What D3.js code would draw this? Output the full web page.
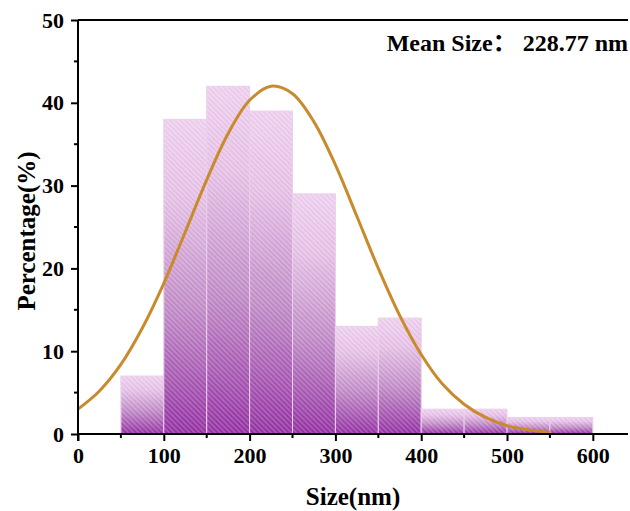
<!DOCTYPE html>
<html><head><meta charset="utf-8">
<script src="https://cdn.jsdelivr.net/npm/d3@7"></script>
<style>
html,body{margin:0;padding:0;background:#fff;}
svg text{font-family:"Liberation Serif","Times New Roman",serif;font-weight:bold;fill:#000;}
</style></head>
<body>
<svg id="chart" width="630" height="511"></svg>
<script>
// Histogram bins (nm) and percentages
const binStarts = [50,100,150,200,250,300,350,400,450,500,550];
const binWidth = 50;
const percentages = [7,38,42,39,29,13,14,3,3,2,2];
// Fitted distribution curve
const curveX = [0,25,50,75,100,125,150,175,200,225,250,275,300,325,350,375,400,425,450,475,500,525,550];
const curveY = [3.0,5.2,8.4,12.8,18.2,24.4,30.7,36.3,40.3,42.0,41.1,37.7,32.5,26.3,20.0,14.3,9.6,6.0,3.6,2.0,1.0,0.5,0.2];
const xTicks = [0,100,200,300,400,500,600];
const yTicks = [0,10,20,30,40,50];
const meanText = ["Mean Size", "\uFF1A", " 228.77 nm"];

(function(){
const svg = d3.select("#chart");
const pL = 78, pR = 628, pT = 20, pB = 434;
const x = d3.scaleLinear().domain([0, 641]).range([pL, pR]);
const y = d3.scaleLinear().domain([0, 50]).range([pB, pT]);

const defs = svg.append("defs");
const grad = defs.append("linearGradient").attr("id","barGrad")
  .attr("x1",0).attr("y1",0).attr("x2",0).attr("y2",1);
grad.append("stop").attr("offset","0").attr("stop-color","#EFD2EF");
grad.append("stop").attr("offset","0.25").attr("stop-color","#E6C2E6");
grad.append("stop").attr("offset","0.6").attr("stop-color","#C08CC6");
grad.append("stop").attr("offset","1").attr("stop-color","#932FA2");
const pat = defs.append("pattern").attr("id","hatch").attr("patternUnits","userSpaceOnUse")
  .attr("width",3.6).attr("height",3.6).attr("patternTransform","rotate(-45)");
pat.append("line").attr("x1",0.9).attr("y1",0).attr("x2",0.9).attr("y2",3.6)
  .attr("stroke","#ffffff").attr("stroke-opacity",0.3).attr("stroke-width",1.1);
pat.append("line").attr("x1",2.7).attr("y1",0).attr("x2",2.7).attr("y2",3.6)
  .attr("stroke","#7a1f88").attr("stroke-opacity",0.07).attr("stroke-width",1.1);

// bars
const bars = svg.append("g");
binStarts.forEach((b,i)=>{
  const bx = x(b), bw = x(b+binWidth)-x(b), by = y(percentages[i]), bh = y(0)-y(percentages[i]);
  bars.append("rect").attr("x",bx).attr("y",by).attr("width",bw).attr("height",bh)
    .attr("fill","url(#barGrad)");
  bars.append("rect").attr("x",bx).attr("y",by).attr("width",bw).attr("height",bh)
    .attr("fill","url(#hatch)").attr("stroke","#EAD0EC").attr("stroke-width",1);
});

// curve
const line = d3.line().x((d,i)=>x(curveX[i])).y(d=>y(d)).curve(d3.curveCatmullRom);
svg.append("path").datum(curveY).attr("d",line).attr("fill","none")
  .attr("stroke","#C98A2C").attr("stroke-width",3);

// axes
const xAxis = d3.axisBottom(x).tickValues(xTicks).tickSize(7).tickPadding(6).tickSizeOuter(0);
const gx = svg.append("g").attr("transform",`translate(0,${pB})`).call(xAxis);
gx.select(".domain").attr("stroke","#000").attr("stroke-width",2).attr("d",`M${pL},0H${pR}`);
gx.selectAll(".tick line").attr("stroke","#000").attr("stroke-width",2);
gx.selectAll("text").style("font-size","22px");
const xMinor = d3.range(50,650,100);
gx.selectAll(".mtick").data(xMinor).enter().append("line")
  .attr("x1",d=>x(d)).attr("x2",d=>x(d)).attr("y1",0).attr("y2",4)
  .attr("stroke","#000").attr("stroke-width",2);

const yAxis = d3.axisLeft(y).tickValues(yTicks).tickSize(7).tickPadding(7).tickSizeOuter(0);
const gy = svg.append("g").attr("transform",`translate(${pL},0)`).call(yAxis);
gy.select(".domain").attr("stroke","#000").attr("stroke-width",2).attr("d",`M0,${pB+7}V${pT}`);
gy.selectAll(".tick line").attr("stroke","#000").attr("stroke-width",2);
gy.selectAll("text").style("font-size","22px");
const yMinor = d3.range(5,50,10);
gy.selectAll(".mtick").data(yMinor).enter().append("line")
  .attr("x1",0).attr("x2",-4).attr("y1",d=>y(d)).attr("y2",d=>y(d))
  .attr("stroke","#000").attr("stroke-width",2);

// top frame
svg.append("line").attr("x1",pL).attr("x2",pR).attr("y1",pT).attr("y2",pT)
  .attr("stroke","#000").attr("stroke-width",2);

// labels
svg.append("text").attr("x",(pL+pR)/2).attr("y",505).attr("text-anchor","middle")
  .style("font-size","25px").text("Size(nm)");
svg.append("text").attr("transform",`translate(35,231) rotate(-90)`)
  .attr("text-anchor","middle").style("font-size","25px").text("Percentage(%)");
const mt = svg.append("text").attr("x",628).attr("y",51).attr("text-anchor","end")
  .style("font-size","24px");
mt.append("tspan").text(meanText[0]);
mt.append("tspan").style("font-family","'Noto Sans CJK SC'").text(meanText[1]);
mt.append("tspan").text(meanText[2]);
})();
</script>
</body></html>
